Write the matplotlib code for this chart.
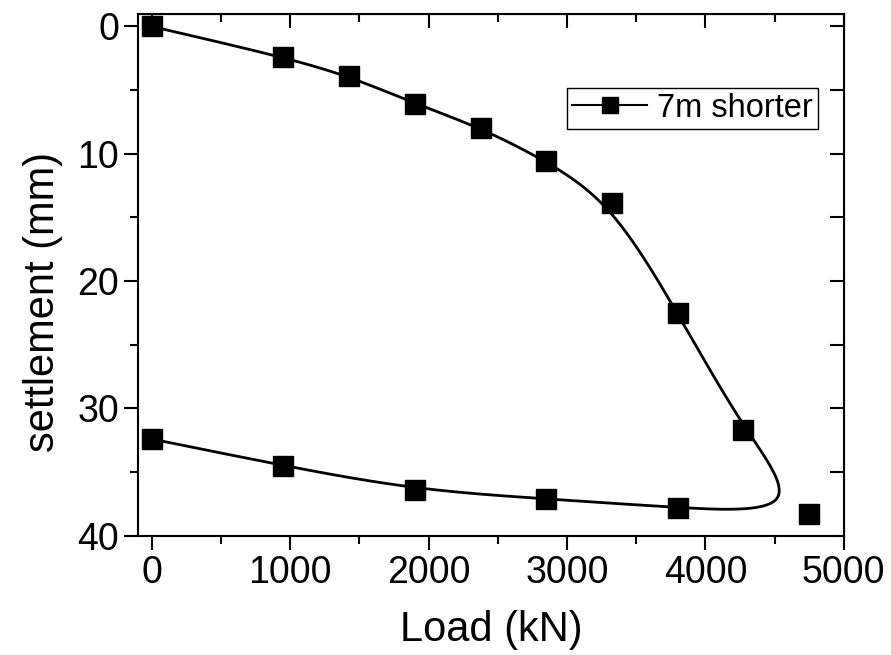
import numpy as np
import matplotlib.pyplot as plt

plt.rcParams['font.family'] = ['Liberation Sans', 'DejaVu Sans']

# carga y asentamiento (carga y descarga)
load = [0, 950, 1425, 1900, 2375, 2850, 3325, 3800, 4275, 4750,
        3800, 2850, 1900, 950, 0]
settlement = [0, 2.4, 3.9, 6.05, 7.95, 10.55, 13.9, 22.5, 31.7, 38.3,
              37.8, 37.1, 36.4, 34.5, 32.4]
label = '7m shorter'


# curva B-spline cubica uniforme (como Origin), extremos triplicados
def bspline(px, py, n=40):
    px = np.r_[px[0], px[0], px, px[-1], px[-1]]
    py = np.r_[py[0], py[0], py, py[-1], py[-1]]
    t = np.linspace(0, 1, n)
    b0 = (1 - t) ** 3 / 6
    b1 = (3 * t ** 3 - 6 * t ** 2 + 4) / 6
    b2 = (-3 * t ** 3 + 3 * t ** 2 + 3 * t + 1) / 6
    b3 = t ** 3 / 6
    xs, ys = [], []
    for i in range(len(px) - 3):
        xs.append(b0 * px[i] + b1 * px[i + 1] + b2 * px[i + 2] + b3 * px[i + 3])
        ys.append(b0 * py[i] + b1 * py[i + 1] + b2 * py[i + 2] + b3 * py[i + 3])
    return np.concatenate(xs), np.concatenate(ys)


fig = plt.figure(figsize=(8.91, 6.55), dpi=100)
ax = fig.add_axes([0.155, 0.182, 0.792, 0.797])

sx, sy = bspline(np.array(load, float), np.array(settlement, float))
ax.plot(sx, sy, color='black', lw=2)
ax.plot(load, settlement, 's', color='black', ms=14, mec='black')
# manija de la leyenda
ax.plot([], [], '-s', color='black', lw=1.5, ms=11, label=label)

ax.set_xlim(-100, 4980)
ax.set_ylim(40, -1)
ax.set_xticks([0, 1000, 2000, 3000, 4000, 5000])
ax.set_xticks(np.arange(500, 5000, 1000), minor=True)
ax.set_yticks([0, 10, 20, 30, 40])
ax.set_yticks([5, 15, 25, 35], minor=True)
ax.tick_params(which='major', direction='out', length=10, width=1.5, labelsize=27)
ax.tick_params(which='minor', direction='out', length=6, width=1.5)
for s in ax.spines.values():
    s.set_linewidth(1.5)

top = ax.secondary_xaxis('top')
top.set_xticks([0, 1000, 2000, 3000, 4000, 5000])
top.set_xticks(np.arange(500, 5000, 1000), minor=True)
top.tick_params(which='major', direction='in', length=10, width=1.5, labeltop=False)
top.tick_params(which='minor', direction='in', length=6, width=1.5)
right = ax.secondary_yaxis('right')
right.set_yticks([0, 10, 20, 30, 40])
right.set_yticks([5, 15, 25, 35], minor=True)
right.tick_params(which='major', direction='in', length=10, width=1.5, labelright=False)
right.tick_params(which='minor', direction='in', length=10, width=1.5)

ax.set_xlabel('Load (kN)', fontsize=30)
ax.set_ylabel('settlement (mm)', fontsize=30)
ax.xaxis.set_label_coords(0.501, -0.142)
ax.yaxis.set_label_coords(-0.106, 0.448)

leg = ax.legend(loc='upper right', bbox_to_anchor=(0.963, 0.858), fontsize=23.5,
                fancybox=False, framealpha=1, edgecolor='black',
                handlelength=2.3, handletextpad=0.3, borderpad=0.15,
                borderaxespad=0)
leg.get_frame().set_linewidth(1)

fig.savefig('out.png', dpi=100)
